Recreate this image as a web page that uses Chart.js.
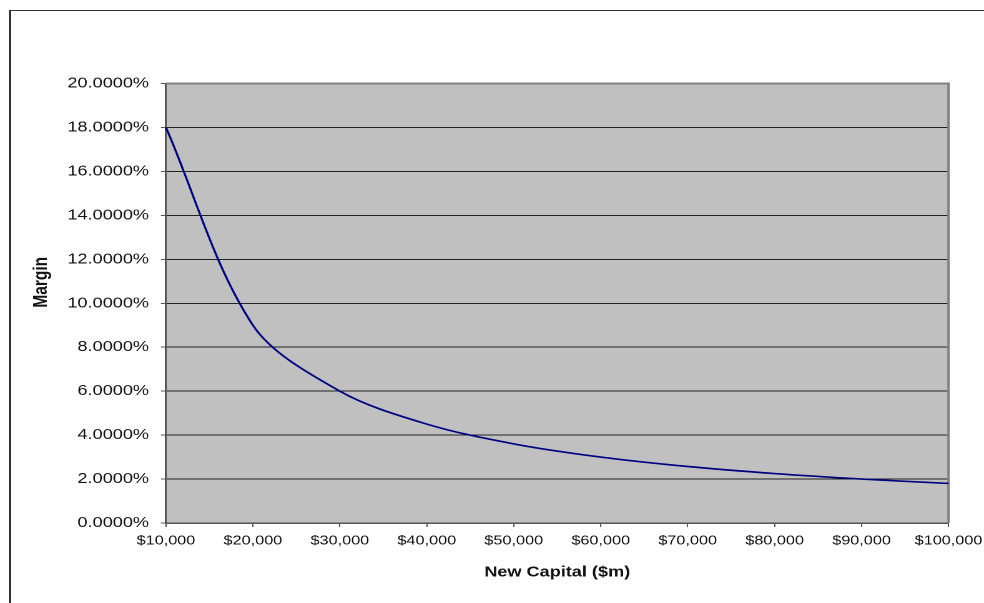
<!DOCTYPE html>
<html>
<head>
<meta charset="utf-8">
<script src="https://cdn.jsdelivr.net/npm/chart.js@4.4.1/dist/chart.umd.min.js"></script>
<style>
  html, body { margin: 0; padding: 0; background: #fff; overflow: hidden; }
  #frame { position: absolute; left: 9px; top: 10px; width: 1000px; height: 700px;
           border-left: 2px solid #333; border-top: 1px solid #333; }
  /* the original picture is stretched sideways, so the canvas is too */
  #wrap { position: absolute; left: 0; top: 0; width: 788px; height: 603px;
          transform: scaleX(1.2487); transform-origin: 0 0; }
</style>
</head>
<body>
<div id="frame"></div>
<div id="wrap"><canvas id="chart" width="788" height="603"></canvas></div>
<script>
'use strict';

// New capital ($m) on the x axis
const capital = ['$10,000', '$20,000', '$30,000', '$40,000', '$50,000',
                 '$60,000', '$70,000', '$80,000', '$90,000', '$100,000'];
// Margin in percent
const margin = [18.0, 9.0, 6.0, 4.5, 3.6, 3.0, 2.57, 2.25, 2.0, 1.8];

const yMin = 0, yMax = 20, yStep = 2;
const yTitle = 'Margin';

const font = { family: "'Liberation Sans', Arial, sans-serif", size: 14 };
const textColor = '#111';
const plotBg = '#c0c0c0';
const gridColor = '#222';
const axisColor = '#555';

// gray plot area with its frame
const plotArea = {
  id: 'plotArea',
  beforeDraw(chart) {
    const { ctx, chartArea: a } = chart;
    ctx.save();
    ctx.fillStyle = plotBg;
    ctx.fillRect(a.left, a.top, a.right - a.left, a.bottom - a.top);
    ctx.restore();
  },
  beforeDatasetsDraw(chart) {
    const { ctx, chartArea: a } = chart;
    ctx.save();
    ctx.strokeStyle = '#808080';
    ctx.lineWidth = 2;
    ctx.beginPath();
    ctx.moveTo(a.left, a.top);
    ctx.lineTo(a.right, a.top);
    ctx.lineTo(a.right, a.bottom);
    ctx.stroke();
    ctx.restore();
  },
  // the y title sits a little above the middle of the axis in the original
  afterDraw(chart) {
    const { ctx, chartArea: a } = chart;
    ctx.save();
    ctx.translate(33.2, (a.top + a.bottom) / 2 - 21);
    ctx.rotate(-Math.PI / 2);
    ctx.font = `bold 15.5px ${font.family}`;
    ctx.fillStyle = textColor;
    ctx.textAlign = 'center';
    ctx.textBaseline = 'middle';
    ctx.fillText(yTitle, 0, 0);
    ctx.restore();
  }
};

new Chart(document.getElementById('chart'), {
  type: 'line',
  data: {
    labels: capital,
    datasets: [{
      data: margin,
      borderColor: '#000080',
      borderWidth: 1.7,
      pointRadius: 0,
      tension: 0.33,
      fill: false
    }]
  },
  options: {
    responsive: false,
    animation: false,
    devicePixelRatio: 2,
    layout: { padding: { left: 0, top: 83.5, right: 28.4, bottom: 0 } },
    plugins: { legend: { display: false }, tooltip: { enabled: false } },
    scales: {
      x: {
        offset: false,
        grid: { drawOnChartArea: false, drawTicks: true, tickLength: 4, tickColor: axisColor },
        border: { display: true, color: axisColor, width: 1.5 },
        ticks: { autoSkip: false, maxRotation: 0, padding: 6,
                  font: { ...font, size: 13 }, color: textColor },
        title: { display: true, text: 'New Capital ($m)', color: textColor,
                 font: { ...font, size: 14.5, weight: 'bold' }, padding: { top: 0, bottom: 22 } },
        afterFit(s) { s.height = 80; s.paddingLeft = 0; s.paddingRight = 0; }
      },
      y: {
        min: yMin,
        max: yMax,
        grid: { color: gridColor, lineWidth: 1, drawTicks: true, tickLength: 4, tickColor: axisColor },
        border: { display: true, color: axisColor, width: 1.5 },
        ticks: { stepSize: yStep, padding: 9.6, font: { ...font, size: 14.5 }, color: textColor,
                 callback: v => v.toFixed(4) + '%' },
        title: { display: false },
        afterFit(s) { s.width = 132.9; s.paddingTop = 0; s.paddingBottom = 0; }
      }
    }
  },
  plugins: [plotArea]
});
</script>
</body>
</html>
